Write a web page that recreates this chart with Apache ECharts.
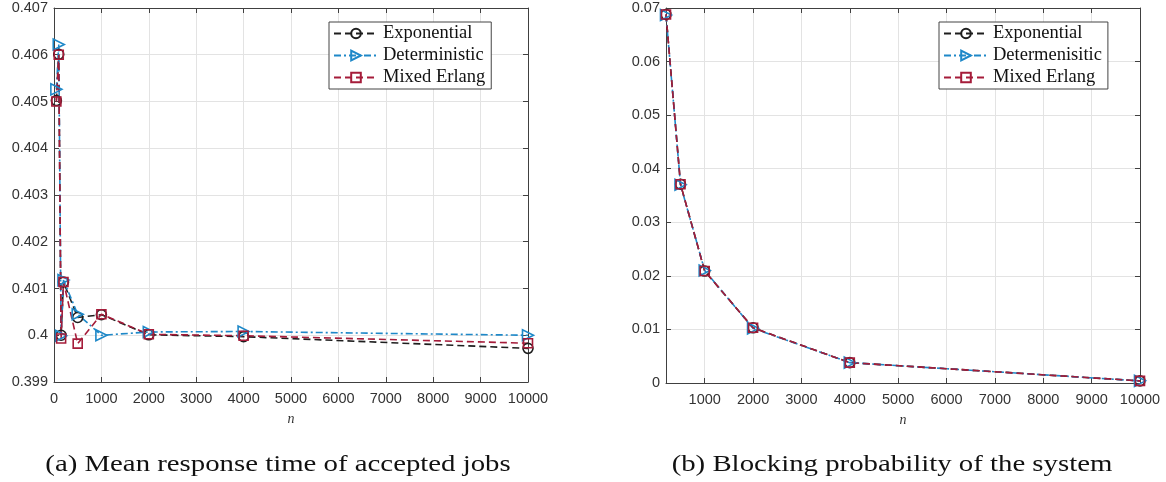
<!DOCTYPE html>
<html>
<head>
<meta charset="utf-8">
<script src="https://cdn.jsdelivr.net/npm/echarts@6/dist/echarts.min.js"></script>
<style>
html,body{margin:0;padding:0;background:#fff;}
#c{width:1166px;height:482px;}
</style>
</head>
<body>
<div id="c"></div>
<script>
// ---- data: (a) mean response time of accepted jobs ----
const nA = [50, 100, 150, 200, 500, 1000, 2000, 4000, 10000];
const expA = [0.40502, 0.40601, 0.40000, 0.40114, 0.40038, 0.40044, 0.40001, 0.39997, 0.39972];
const detA = [0.40526, 0.40622, 0.39999, 0.40118, 0.40045, 0.40000, 0.40007, 0.40008, 0.40000];
const mixA = [0.40500, 0.40600, 0.39993, 0.40114, 0.39982, 0.40045, 0.40002, 0.39999, 0.39983];
// ---- data: (b) blocking probability ----
const nB = [200, 500, 1000, 2000, 4000, 10000];
const expB = [0.0688, 0.0371, 0.0209, 0.0103, 0.0038, 0.0004];
const detB = [0.0687, 0.0370, 0.0210, 0.0102, 0.0038, 0.0004];
const mixB = [0.0688, 0.0371, 0.0209, 0.0103, 0.0038, 0.0004];
const xTicksB = [1000, 2000, 3000, 4000, 5000, 6000, 7000, 8000, 9000, 10000];
const namesA = ['Exponential', 'Deterministic', 'Mixed Erlang'];
const namesB = ['Exponential', 'Determenisitic', 'Mixed Erlang'];
const captionA = '(a) Mean response time of accepted jobs';
const captionB = '(b) Blocking probability of the system';

const pair = (xs, ys) => xs.map((x, i) => [x, ys[i]]);

const AX = '#404040';
const GRID = '#e3e3e3';
const LBL = '#333';
const C_EXP = '#1e1e1e', C_DET = '#1e88c8', C_MIX = '#a51c3a';

function baseAxis(extra) {
  return Object.assign({
    axisLine: { show: true, onZero: false, lineStyle: { color: AX, width: 1 } },
    axisTick: { show: true, inside: true, length: 5, lineStyle: { color: AX } },
    axisLabel: { show: false },
    splitLine: { show: false }
  }, extra);
}

function mkSeries(name, data, xi, yi, color, dash, symbol, rot, size) {
  return {
    type: 'line', name: name, data: data, xAxisIndex: xi, yAxisIndex: yi,
    symbol: symbol, symbolSize: size, symbolRotate: rot,
    showAllSymbol: true,
    lineStyle: { color: color, width: 1.6, type: dash },
    itemStyle: { color: 'rgba(255,255,255,0)', borderColor: color, borderWidth: 1.6 },
    emphasis: { disabled: true },
    animation: false, z: 3
  };
}

const dashE = [7, 4];
const dashD = [7, 3, 2, 3];

const labelFont = { color: LBL, fontSize: 14.5, fontFamily: 'Liberation Sans, Arial, sans-serif' };
const plain = v => String(v);

const legendCommon = {
  orient: 'vertical', itemWidth: 44, itemHeight: 12, itemGap: 3, itemTextGap: 4,
  backgroundColor: '#fff', borderColor: '#444', borderWidth: 1,
  padding: [2, 6, 2, 4],
  textStyle: { fontFamily: 'Liberation Serif, serif', fontSize: 18.5, color: '#111', lineHeight: 19 }
};

const nameStyle = { fontFamily: 'Liberation Serif, serif', fontStyle: 'italic', fontSize: 14, color: '#333' };

const option = {
  animation: false,
  grid: [
    { left: 54, top: 8, width: 474, height: 374 },
    { left: 666, top: 8, width: 474, height: 375 }
  ],
  xAxis: [
    baseAxis({ gridIndex: 0, type: 'value', min: 0, max: 10000, interval: 1000, position: 'bottom',
      axisLabel: Object.assign({ show: true, margin: 9, formatter: plain }, labelFont),
      splitLine: { show: true, lineStyle: { color: GRID } },
      name: 'n', nameLocation: 'middle', nameGap: 30, nameTextStyle: nameStyle }),
    baseAxis({ gridIndex: 0, type: 'value', min: 0, max: 10000, interval: 1000, position: 'top' }),
    baseAxis({ gridIndex: 1, type: 'value', min: 200, max: 10000, position: 'bottom',
      axisTick: { show: true, inside: true, length: 5, lineStyle: { color: AX }, customValues: xTicksB },
      axisLabel: Object.assign({ show: true, margin: 9, customValues: xTicksB, formatter: plain }, labelFont),
      splitLine: { show: true, lineStyle: { color: GRID } },
      name: 'n', nameLocation: 'middle', nameGap: 30, nameTextStyle: nameStyle }),
    baseAxis({ gridIndex: 1, type: 'value', min: 200, max: 10000, position: 'top',
      axisTick: { show: true, inside: true, length: 5, lineStyle: { color: AX }, customValues: xTicksB } })
  ],
  yAxis: [
    baseAxis({ gridIndex: 0, type: 'value', min: 0.399, max: 0.407, interval: 0.001, position: 'left',
      axisLabel: Object.assign({ show: true, margin: 6, formatter: v => String(Number(v.toFixed(3))) }, labelFont),
      splitLine: { show: true, lineStyle: { color: GRID } } }),
    baseAxis({ gridIndex: 0, type: 'value', min: 0.399, max: 0.407, interval: 0.001, position: 'right' }),
    baseAxis({ gridIndex: 1, type: 'value', min: 0, max: 0.07, interval: 0.01, position: 'left',
      axisLabel: Object.assign({ show: true, margin: 6, formatter: v => String(Number(v.toFixed(2))) }, labelFont),
      splitLine: { show: true, lineStyle: { color: GRID } } }),
    baseAxis({ gridIndex: 1, type: 'value', min: 0, max: 0.07, interval: 0.01, position: 'right' })
  ],
  legend: [
    Object.assign({ left: 329, top: 22, data: namesA }, legendCommon),
    Object.assign({ left: 939, top: 22, data: namesB }, legendCommon)
  ],
  series: [
    mkSeries(namesA[0], pair(nA, expA), 0, 0, C_EXP, dashE, 'circle', 0, 10),
    mkSeries(namesA[1], pair(nA, detA), 0, 0, C_DET, dashD, 'triangle', -90, 11),
    mkSeries(namesA[2], pair(nA, mixA), 0, 0, C_MIX, dashE, 'rect', 0, 9),
    mkSeries(namesB[0], pair(nB, expB), 2, 2, C_EXP, dashE, 'circle', 0, 10),
    mkSeries(namesB[1], pair(nB, detB), 2, 2, C_DET, dashD, 'triangle', -90, 11),
    mkSeries(namesB[2], pair(nB, mixB), 2, 2, C_MIX, dashE, 'rect', 0, 9)
  ],
  graphic: [
    { type: 'text', x: 278, y: 465, scaleX: 1.2, style: { text: captionA, x: 0, y: 0, align: 'center', verticalAlign: 'middle',
      font: '24px "Liberation Serif", serif', fill: '#111' } },
    { type: 'text', x: 892, y: 465, scaleX: 1.2, style: { text: captionB, x: 0, y: 0, align: 'center', verticalAlign: 'middle',
      font: '24px "Liberation Serif", serif', fill: '#111' } }
  ]
};

const chart = echarts.init(document.getElementById('c'), null, { renderer: 'canvas' });
chart.setOption(option);
</script>
</body>
</html>
